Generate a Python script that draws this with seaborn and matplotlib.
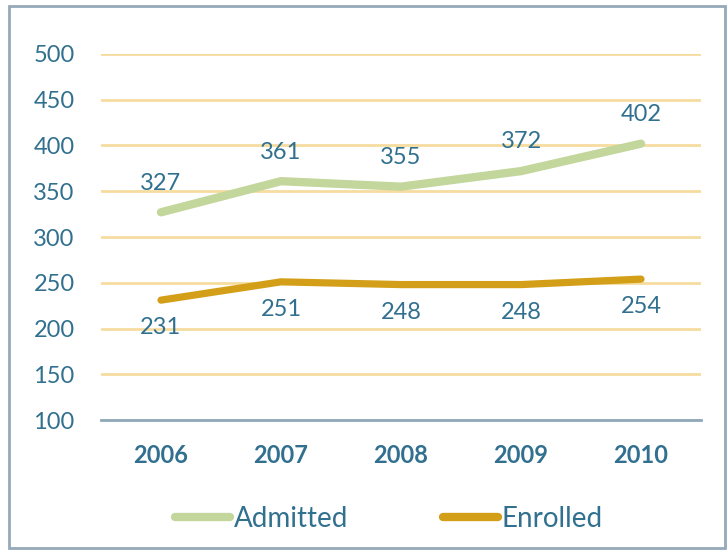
import numpy as np
import pandas as pd
import matplotlib
matplotlib.use("Agg")
import matplotlib.pyplot as plt
import seaborn as sns
from matplotlib.patches import Rectangle
from matplotlib.lines import Line2D

# ---------- DATA ----------
years = ["2006", "2007", "2008", "2009", "2010"]
admitted = [327, 361, 355, 372, 402]
enrolled = [231, 251, 248, 248, 254]

TEXT = "#31708F"
GRID = "#F6DC9E"
COLORS = {"Admitted": "#C3D69B", "Enrolled": "#D49F18"}

df = pd.DataFrame({
    "year": years * 2,
    "value": admitted + enrolled,
    "series": ["Admitted"] * len(years) + ["Enrolled"] * len(years),
})

sns.set_theme(style="white")
plt.rcParams["font.family"] = ["Lato", "DejaVu Sans"]

fig = plt.figure(figsize=(7.28, 5.52), dpi=100)
ax = fig.add_axes([0.1387, 0.2391, 0.8242, 0.6631])

sns.lineplot(data=df, x="year", y="value", hue="series", palette=COLORS,
             linewidth=6, sort=False, ax=ax, legend=False,
             solid_capstyle="round")
for line, lw in zip(ax.lines, [6.0, 5.2]):
    line.set_linewidth(lw)

ax.set_xlim(-0.5, len(years) - 0.5)
ax.set_ylim(100, 500)
ax.set_yticks(np.arange(100, 501, 50))
ax.yaxis.grid(True, color=GRID, linewidth=2)
ax.set_axisbelow(True)
for side in ["left", "right", "top"]:
    ax.spines[side].set_visible(False)
ax.spines["bottom"].set_color("#8EA8BB")
ax.spines["bottom"].set_linewidth(2)
ax.tick_params(axis="y", labelsize=17, labelcolor=TEXT, length=0, pad=19)
ax.tick_params(axis="x", labelsize=17, labelcolor=TEXT, length=0, pad=17)
for lab in ax.get_xticklabels():
    lab.set_fontweight("bold")
ax.set_xlabel("")
ax.set_ylabel("")

# data labels
for i, v in enumerate(admitted):
    ax.annotate(str(v), (i, v), xytext=(0, 21), textcoords="offset points",
                ha="center", va="center", fontsize=17, color=TEXT)
for i, v in enumerate(enrolled):
    ax.annotate(str(v), (i, v), xytext=(0, -20), textcoords="offset points",
                ha="center", va="center", fontsize=17, color=TEXT)

# legend
handles = [Line2D([], [], color=COLORS[k], linewidth=6, solid_capstyle="round")
           for k in COLORS]
fig.legend(handles, list(COLORS), loc="center", bbox_to_anchor=(0.534, 0.06),
           ncol=2, frameon=False, fontsize=20, labelcolor=TEXT,
           handlelength=2.0, handletextpad=0.12, columnspacing=3.4)

# outer frame
fig.patches.append(Rectangle((0.012, 0.008), 0.984, 0.982, transform=fig.transFigure,
                             fill=False, edgecolor="#95A9B8", linewidth=2))

fig.savefig("out.png", dpi=100)
